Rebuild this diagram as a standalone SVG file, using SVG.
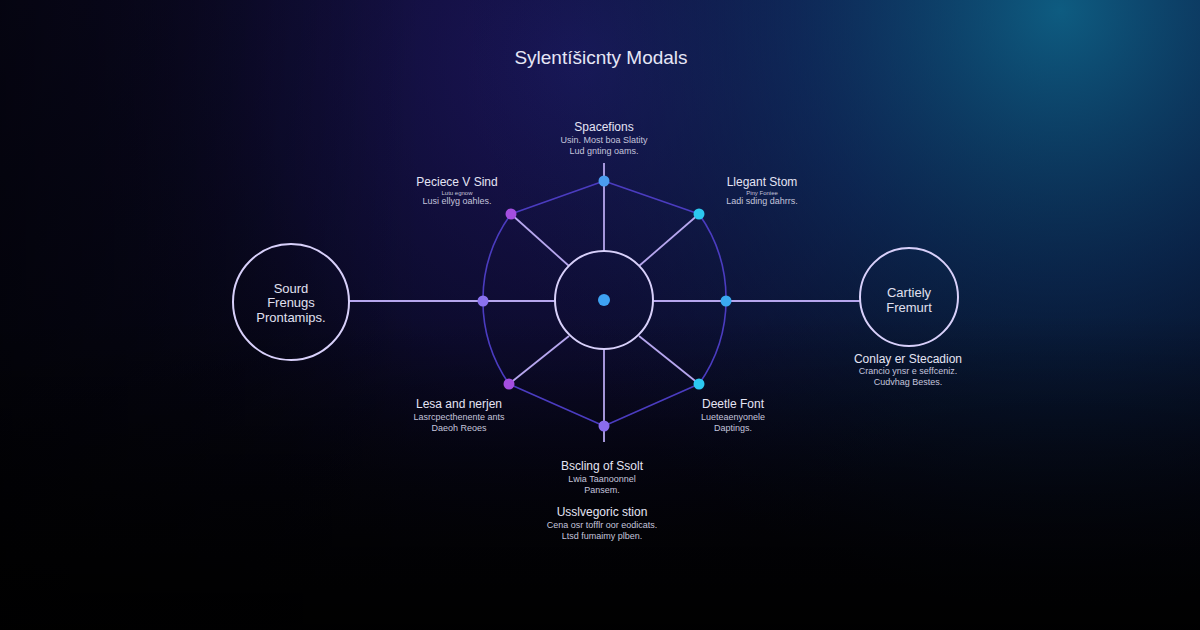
<svg xmlns="http://www.w3.org/2000/svg" width="1200" height="630" viewBox="0 0 1200 630">
<defs>
<linearGradient id="bg" x1="0" y1="0" x2="0" y2="1">
<stop offset="0" stop-color="#0d0b2a"/>
<stop offset="0.55" stop-color="#07071a"/>
<stop offset="1" stop-color="#030306"/>
</linearGradient>
<radialGradient id="glowP" cx="580" cy="60" r="520" gradientUnits="userSpaceOnUse">
<stop offset="0" stop-color="#221a70" stop-opacity="0.7"/>
<stop offset="0.6" stop-color="#161250" stop-opacity="0.35"/>
<stop offset="1" stop-color="#0a0820" stop-opacity="0"/>
</radialGradient>
<radialGradient id="glowT" cx="1060" cy="10" r="600" gradientUnits="userSpaceOnUse">
<stop offset="0" stop-color="#0e6a90" stop-opacity="0.85"/>
<stop offset="0.45" stop-color="#0b3a6a" stop-opacity="0.55"/>
<stop offset="1" stop-color="#071a3a" stop-opacity="0"/>
</radialGradient>
<linearGradient id="fadeB" x1="0" y1="0" x2="0" y2="1">
<stop offset="0.5" stop-color="#000" stop-opacity="0"/>
<stop offset="1" stop-color="#000" stop-opacity="0.85"/>
</linearGradient>
<linearGradient id="fadeL" x1="0" y1="0" x2="1" y2="0">
<stop offset="0" stop-color="#000" stop-opacity="0.6"/>
<stop offset="0.35" stop-color="#000" stop-opacity="0"/>
</linearGradient>
<style>
text{font-family:"Liberation Sans","DejaVu Sans",sans-serif;fill:#dcdcf0;text-anchor:middle}
.title{font-size:19px;fill:#e6e6f6}
.h{font-size:12px;fill:#e4e4f4}
.s{font-size:9px;fill:#c4c4dc}
.big{font-size:13px;fill:#e0e0f0}
.spoke{stroke:#b6a6ee;stroke-width:1.8;fill:none}
.ring{stroke:#4b3cc0;stroke-width:1.6;fill:none}
.circ{stroke:#d8d0fa;stroke-width:2;fill:none}
</style>
</defs>
<rect width="1200" height="630" fill="url(#bg)"/>
<rect width="1200" height="630" fill="url(#glowP)"/>
<rect width="1200" height="630" fill="url(#glowT)"/>
<rect width="1200" height="630" fill="url(#fadeL)"/>
<rect width="1200" height="630" fill="url(#fadeB)"/>

<text class="title" x="601" y="64">Sylentíšicnty Modals</text>

<g id="connectors">
<path class="ring" d="M604,181 L511,214 M604,181 L699,214 M604,426 L509,384 M604,426 L699,384"/>
<path class="ring" d="M511,214 A147,147 0 0 0 509,384 M699,214 A147,147 0 0 1 699,384"/>
<line class="spoke" x1="604" y1="163" x2="604" y2="251"/>
<line class="spoke" x1="604" y1="349" x2="604" y2="442"/>
<line class="spoke" x1="349" y1="301" x2="555" y2="301"/>
<line class="spoke" x1="653" y1="301" x2="860" y2="301"/>
<line class="spoke" x1="511" y1="214" x2="569" y2="266"/>
<line class="spoke" x1="699" y1="214" x2="639" y2="266"/>
<line class="spoke" x1="509" y1="384" x2="569" y2="336"/>
<line class="spoke" x1="699" y1="384" x2="639" y2="336"/>
</g>

<g id="hub">
<circle class="circ" cx="604" cy="300" r="49"/>
<circle cx="604" cy="300" r="6" fill="#3ea2f2"/>
</g>
<g id="n-top"><circle cx="604" cy="181" r="5.5" fill="#4a9cf0"/>
<text class="h" x="604" y="131">Spacefions</text>
<text class="s" x="604" y="143">Usin. Most boa Slatity</text>
<text class="s" x="604" y="154">Lud gnting oams.</text></g>
<g id="n-nw"><circle cx="511" cy="214" r="5.5" fill="#a44ee0"/>
<text class="h" x="457" y="186">Peciece V Sind</text>
<text class="s" x="457" y="195" style="font-size:6px">Lutu egnow</text>
<text class="s" x="457" y="204">Lusi ellyg oahles.</text></g>
<g id="n-ne"><circle cx="699" cy="214" r="5.5" fill="#2cc8f0"/>
<text class="h" x="762" y="186">Llegant Stom</text>
<text class="s" x="762" y="195" style="font-size:6px">Piny Foniee</text>
<text class="s" x="762" y="204">Ladi sding dahrrs.</text></g>
<g id="n-left"><circle cx="483" cy="301" r="5.5" fill="#8a72ee"/></g>
<g id="n-right"><circle cx="726" cy="301" r="5.5" fill="#3aaaf0"/></g>
<g id="n-sw"><circle cx="509" cy="384" r="5.5" fill="#a44ee0"/>
<text class="h" x="459" y="408">Lesa and nerjen</text>
<text class="s" x="459" y="420">Lasrcpecthenente ants</text>
<text class="s" x="459" y="431">Daeoh Reoes</text></g>
<g id="n-se"><circle cx="699" cy="384" r="5.5" fill="#2cc8f0"/>
<text class="h" x="733" y="408">Deetle Font</text>
<text class="s" x="733" y="420">Lueteaenyonele</text>
<text class="s" x="733" y="431">Daptings.</text></g>
<g id="n-bottom"><circle cx="604" cy="426" r="5.5" fill="#8a6cee"/>
<text class="h" x="602" y="470">Bscling of Ssolt</text>
<text class="s" x="602" y="482">Lwia Taanoonnel</text>
<text class="s" x="602" y="493">Pansem.</text></g>
<g id="note-bottom">
<text class="h" x="602" y="516">Usslvegoric stion</text>
<text class="s" x="602" y="528">Cena osr tofflr oor eodicats.</text>
<text class="s" x="602" y="539">Ltsd fumaimy plben.</text></g>

<g id="left-circle">
<circle class="circ" cx="291" cy="302" r="58"/>
<text class="big" x="291" y="293">Sourd</text>
<text class="big" x="291" y="307">Frenugs</text>
<text class="big" x="291" y="322">Prontamips.</text></g>
<g id="right-circle">
<circle class="circ" cx="909" cy="297" r="49" stroke="#c8c0f0"/>
<text class="big" x="909" y="297">Cartiely</text>
<text class="big" x="909" y="312">Fremurt</text>
<text class="h" x="908" y="363">Conlay er Stecadion</text>
<text class="s" x="908" y="374">Crancio ynsr e seffceniz.</text>
<text class="s" x="908" y="385">Cudvhag Bestes.</text></g>
</svg>
